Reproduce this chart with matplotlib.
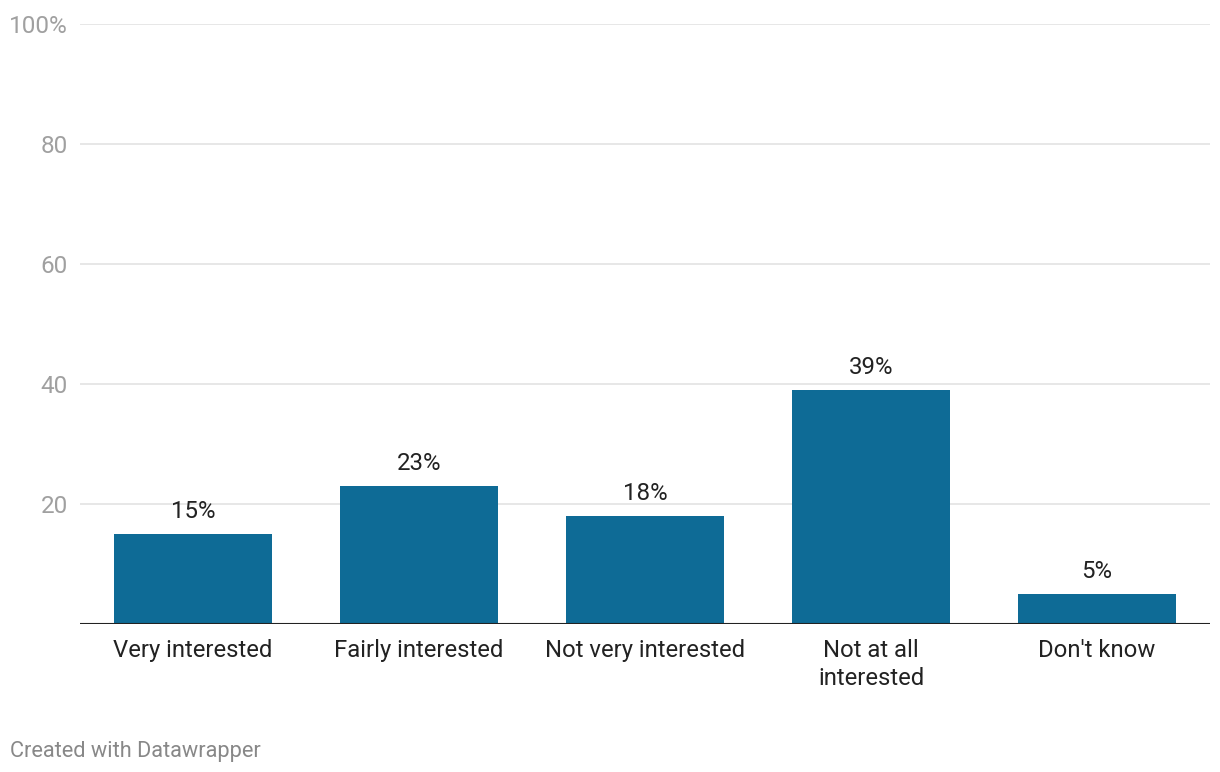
import matplotlib.pyplot as plt

categories = ["Very interested", "Fairly interested", "Not very interested",
              "Not at all\ninterested", "Don't know"]
values = [15, 23, 18, 39, 5]
yticks = [0, 20, 40, 60, 80, 100]
ytick_labels = ["", "20", "40", "60", "80", "100%"]

plt.rcParams['font.family'] = ['Roboto', 'DejaVu Sans']

W, H = 1220, 772
fig = plt.figure(figsize=(W / 100, H / 100), dpi=100)
ax = fig.add_axes([80 / W, 148 / H, 1130 / W, 600 / H])

x = list(range(len(categories)))
bars = ax.bar(x, values, width=0.70, color="#0e6b96", zorder=2)

for b, v in zip(bars, values):
    ax.text(b.get_x() + b.get_width() / 2, v + 1.9, f"{v}%",
            ha="center", va="bottom", fontsize=17.3, color="#222222")

ax.set_xlim(-0.5, len(categories) - 0.5)
ax.set_ylim(0, 100)
ax.set_yticks(yticks)
ax.set_yticklabels(ytick_labels)
ax.grid(axis="y", color="#e3e3e3", linewidth=1.2, zorder=0)
ax.axhline(0, color="#222222", linewidth=1.5, zorder=3)

for s in ax.spines.values():
    s.set_visible(False)

ax.tick_params(axis="y", length=0, pad=8.6, labelsize=17.5, labelcolor="#a0a0a0")
ax.tick_params(axis="x", length=0, pad=10.5, labelsize=17.2, labelcolor="#222222")
ax.set_xticks(x)
ax.set_xticklabels(categories, linespacing=1.3)
for lbl in ax.get_xticklabels():
    lbl.set_va("top")

fig.text(10 / W, 1 - 751 / H, "Created with Datawrapper", fontsize=15.7,
         color="#888888", ha="left", va="center")

fig.savefig("out.png", dpi=100)
